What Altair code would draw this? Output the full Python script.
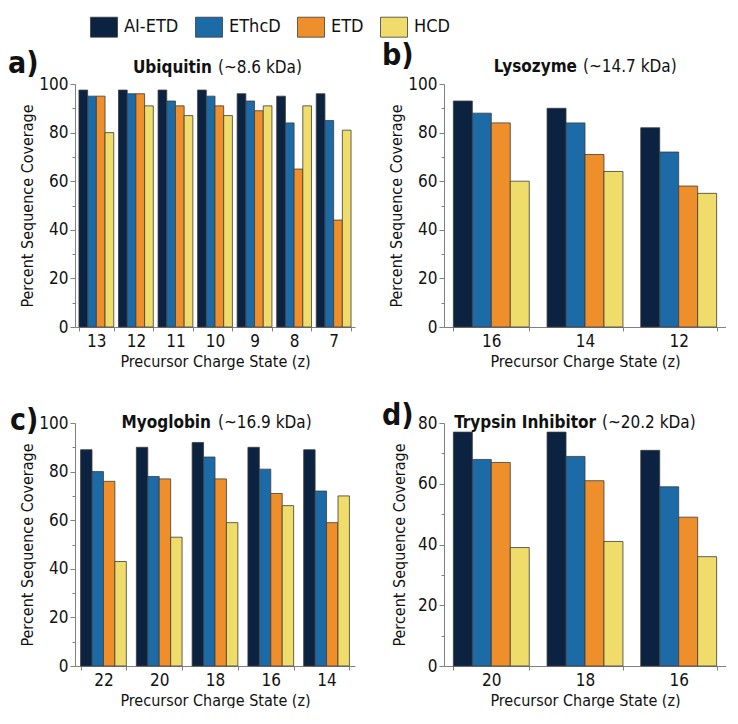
import altair as alt
import pandas as pd

methods = ["AI-ETD", "EThcD", "ETD", "HCD"]
colors = ["#0b2240", "#1c6ba6", "#ef8f2c", "#efdc6b"]

# a) Ubiquitin
ubq_z = ["13", "12", "11", "10", "9", "8", "7"]
ubq_aietd = [97.5, 97.5, 97.5, 97.5, 96, 95, 96]
ubq_ethcd = [95, 96, 93, 95, 93, 84, 85]
ubq_etd = [95, 96, 91, 91, 89, 65, 44]
ubq_hcd = [80, 91, 87, 87, 91, 91, 81]

# b) Lysozyme
lys_z = ["16", "14", "12"]
lys_aietd = [93, 90, 82]
lys_ethcd = [88, 84, 72]
lys_etd = [84, 71, 58]
lys_hcd = [60, 64, 55]

# c) Myoglobin
myo_z = ["22", "20", "18", "16", "14"]
myo_aietd = [89, 90, 92, 90, 89]
myo_ethcd = [80, 78, 86, 81, 72]
myo_etd = [76, 77, 77, 71, 59]
myo_hcd = [43, 53, 59, 66, 70]

# d) Trypsin Inhibitor
try_z = ["20", "18", "16"]
try_aietd = [77, 77, 71]
try_ethcd = [68, 69, 59]
try_etd = [67, 61, 49]
try_hcd = [39, 41, 36]

FONT = "DejaVu Sans Condensed, sans-serif"
AXC = "#808080"


def make_df(zs, *series):
    rows = []
    for m, vals in zip(methods, series):
        for z, v in zip(zs, vals):
            rows.append({"z": z, "method": m, "cov": v})
    return pd.DataFrame(rows)


def panel(df, zs, pinner, ymax, width, label, lab_x, lab_y, name, mass,
          bold_end, norm_start, title_y, ytitle_pad, show_legend):
    bars = alt.Chart(df).mark_bar(stroke="#3c3c3c", strokeWidth=0.8).encode(
        x=alt.X("z:N", sort=zs,
                scale=alt.Scale(paddingInner=pinner, paddingOuter=0.1),
                axis=alt.Axis(title="Precursor Charge State (z)", labelAngle=0,
                              tickBand="extent", tickSize=4, labelPadding=2,
                              titlePadding=4)),
        xOffset=alt.XOffset("method:N", sort=methods),
        y=alt.Y("cov:Q", scale=alt.Scale(domain=[0, ymax], nice=False),
                axis=alt.Axis(title="Percent Sequence Coverage",
                              values=list(range(0, ymax + 1, 10)),
                              labelExpr="datum.value % 20 === 0 ? datum.label : ''",
                              tickSize={"condition": {"test": "datum.value % 20 === 0", "value": 5}, "value": 3},
                              labelPadding=2, titlePadding=ytitle_pad)),
        color=alt.Color("method:N", sort=methods,
                        scale=alt.Scale(domain=methods, range=colors),
                        legend=alt.Legend(title=None) if show_legend else None),
    )
    lab = alt.Chart(pd.DataFrame({"t": [label]})).mark_text(
        align="left", baseline="alphabetic", font=FONT, fontSize=30,
        fontWeight="bold", color="#111"
    ).encode(x=alt.value(lab_x), y=alt.value(lab_y), text="t:N")
    t1 = alt.Chart(pd.DataFrame({"t": [name]})).mark_text(
        align="right", baseline="alphabetic", font=FONT, fontSize=17,
        fontWeight="bold", color="#111"
    ).encode(x=alt.value(bold_end), y=alt.value(title_y), text="t:N")
    t2 = alt.Chart(pd.DataFrame({"t": [mass]})).mark_text(
        align="left", baseline="alphabetic", font=FONT, fontSize=17,
        color="#111"
    ).encode(x=alt.value(norm_start), y=alt.value(title_y), text="t:N")
    return alt.layer(bars, lab, t1, t2).properties(width=width, height=243)


pa = panel(make_df(ubq_z, ubq_aietd, ubq_ethcd, ubq_etd, ubq_hcd), ubq_z, 0.12, 100, 280,
           "a)", -67, -11, "Ubiquitin", "(~8.6 kDa)", 137, 143, -11, 3, True)
pb = panel(make_df(lys_z, lys_aietd, lys_ethcd, lys_etd, lys_hcd), lys_z, 0.19, 100, 282,
           "b)", -62, -19, "Lysozyme", "(~14.7 kDa)", 133, 139, -12, 3, False)
pc = panel(make_df(myo_z, myo_aietd, myo_ethcd, myo_etd, myo_hcd), myo_z, 0.18, 100, 280,
           "c)", -65, 7, "Myoglobin", "(~16.9 kDa)", 136, 143, 5, 3, False)
pd_ = panel(make_df(try_z, try_aietd, try_ethcd, try_etd, try_hcd), try_z, 0.19, 80, 282,
            "d)", -62, 2, "Trypsin Inhibitor", "(~20.2 kDa)", 152, 158, 5, 10, False)

chart = alt.concat(pa, pb, pc, pd_, columns=2, bounds="flush",
                   spacing={"row": 96, "column": 89}).resolve_scale(
    xOffset="independent"
).properties(
    padding={"left": 0, "top": 5, "right": 0, "bottom": 0}
).configure_view(stroke=None).configure_axis(
    grid=False, domainColor=AXC, tickColor=AXC, domainWidth=1, tickWidth=1,
    labelFont=FONT, titleFont=FONT, labelFontSize=17, titleFontSize=16,
    labelColor="#111", titleColor="#111", titleFontWeight="normal"
).configure_legend(
    orient="none", legendX=15, legendY=-71, direction="horizontal",
    symbolType="M-1,-0.74L1,-0.74L1,0.74L-1,0.74Z", symbolSize=729,
    symbolStrokeColor="#3c3c3c", symbolStrokeWidth=0.8, symbolOpacity=1,
    labelFont=FONT, labelFontSize=18, labelColor="#111", labelOffset=6,
    columnPadding=14, padding=0
)

chart.save("out.html", embed_options={"renderer": "svg", "actions": False})
